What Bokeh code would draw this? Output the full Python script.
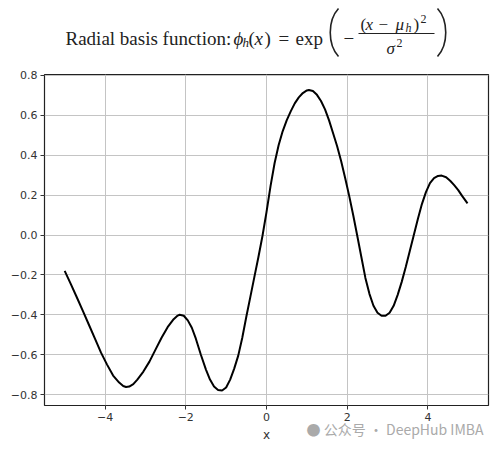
from bokeh.plotting import figure
from bokeh.layouts import column
from bokeh.models import Range1d, FixedTicker, CustomJSTickFormatter, Title
from bokeh.core.properties import value
from bokeh.embed import file_html
from bokeh.resources import INLINE

# ---- data ----
x_vals = [-5.0, -4.85, -4.7, -4.55, -4.4, -4.25, -4.1, -3.95, -3.8, -3.65,
          -3.55, -3.48, -3.4, -3.3, -3.2, -3.05, -2.9, -2.75, -2.6, -2.45,
          -2.3, -2.2, -2.15, -2.05, -1.95, -1.85, -1.75, -1.63, -1.5, -1.4,
          -1.3, -1.2, -1.1, -1.0, -0.9, -0.8, -0.7, -0.6, -0.5, -0.4,
          -0.3, -0.2, -0.1, 0.0, 0.1, 0.2, 0.3, 0.4, 0.5, 0.6,
          0.7, 0.8, 0.9, 1.0, 1.05, 1.15, 1.25, 1.35, 1.45, 1.55,
          1.65, 1.75, 1.85, 1.95, 2.05, 2.15, 2.24, 2.35, 2.45, 2.55,
          2.65, 2.75, 2.85, 2.95, 3.05, 3.15, 3.25, 3.35, 3.45, 3.55,
          3.65, 3.75, 3.85, 3.95, 4.05, 4.15, 4.25, 4.34, 4.45, 4.55,
          4.65, 4.75, 4.85, 4.98]
y_vals = [-0.180, -0.245, -0.312, -0.380, -0.450, -0.520, -0.590, -0.650, -0.705, -0.740,
          -0.757, -0.762, -0.760, -0.748, -0.725, -0.685, -0.635, -0.575, -0.515, -0.462,
          -0.422, -0.404, -0.400, -0.405, -0.428, -0.465, -0.520, -0.598, -0.675, -0.725,
          -0.760, -0.777, -0.780, -0.765, -0.725, -0.670, -0.605, -0.515, -0.410, -0.310,
          -0.210, -0.110, -0.005, 0.115, 0.245, 0.360, 0.450, 0.520, 0.575, 0.620,
          0.660, 0.690, 0.712, 0.725, 0.727, 0.722, 0.703, 0.672, 0.630, 0.575,
          0.510, 0.445, 0.370, 0.285, 0.195, 0.098, 0.005, -0.110, -0.215, -0.295,
          -0.355, -0.390, -0.405, -0.405, -0.390, -0.355, -0.300, -0.235, -0.160, -0.080,
          0.000, 0.080, 0.155, 0.215, 0.260, 0.285, 0.296, 0.298, 0.290, 0.272,
          0.250, 0.225, 0.195, 0.159]
x_ticks = [-4, -2, 0, 2, 4]
y_ticks = [-0.8, -0.6, -0.4, -0.2, 0.0, 0.2, 0.4, 0.6, 0.8]
x_label = "x"
watermark = "\u25cf 公众号 · DeepHub IMBA"

SERIF = value("Liberation Serif")
INK = "#222222"

# ---- title figure: frame is aligned with the chart frame (image x 44..488) ----
t = figure(width=500, height=66, output_backend="svg", toolbar_location=None,
           x_range=Range1d(44, 488), y_range=Range1d(66, 0),
           min_border_left=44, min_border_right=12, min_border_top=0, min_border_bottom=0,
           outline_line_color=None)
t.axis.visible = False
t.grid.visible = False

def tx(x, y, s, size=19, italic=False):
    t.text(x=[x], y=[y], text=[s], text_font=SERIF,
           text_font_size=f"{size}px", text_color=INK,
           text_font_style="italic" if italic else "normal",
           text_baseline="alphabetic", text_align="left")

tx(65, 38, "Radial basis function:")
tx(233, 38, "\u03d5", italic=True)
tx(242, 42, "h", size=13, italic=True)
tx(248, 38, "(")
tx(254, 38, "x", italic=True)
tx(264, 38, ")")
tx(278, 38, "=")
tx(295, 38, "exp")
tx(343, 38, "\u2212")
# numerator
tx(360, 24, "(", size=17)
tx(365, 24, "x", size=17, italic=True)
tx(378, 24, "\u2212", size=17)
tx(395, 24, "\u03bc", size=17, italic=True)
tx(405, 27, "h", size=12, italic=True)
tx(413, 24, ")", size=17)
tx(420, 18, "2", size=12)
# fraction bar
t.segment(x0=[358], y0=[33], x1=[434], y1=[33], line_color=INK, line_width=1)
# denominator
tx(386, 48, "\u03c3", size=17, italic=True)
tx(396, 42, "2", size=12)
# big parentheses
t.bezier(x0=[338], y0=[8], x1=[338], y1=[56], cx0=[327], cy0=[20], cx1=[327], cy1=[44],
         line_color=INK, line_width=1.6)
t.bezier(x0=[437], y0=[8], x1=[437], y1=[56], cx0=[448], cy0=[20], cx1=[448], cy1=[44],
         line_color=INK, line_width=1.6)

# ---- main chart ----
p = figure(width=500, height=386, output_backend="svg", toolbar_location=None,
           x_range=Range1d(-5.5, 5.5), y_range=Range1d(-0.855, 0.805),
           min_border_left=44, min_border_right=12, min_border_top=8, min_border_bottom=47,
           outline_line_color="#222222", outline_line_width=1.2,
           background_fill_color="white", border_fill_color="white")

p.line(x_vals, y_vals, line_color="black", line_width=2)

p.xaxis.ticker = FixedTicker(ticks=x_ticks)
p.yaxis.ticker = FixedTicker(ticks=y_ticks)
p.xaxis.formatter = CustomJSTickFormatter(code="return tick.toFixed(0).replace('-', '\\u2212');")
p.yaxis.formatter = CustomJSTickFormatter(code="return tick.toFixed(1).replace('-', '\\u2212');")
for ax in (p.xaxis, p.yaxis):
    ax.axis_line_color = None
    ax.major_tick_in = 0
    ax.major_tick_out = 4
    ax.major_tick_line_color = "#333333"
    ax.minor_tick_line_color = None
    ax.major_label_text_font = "DejaVu Sans"
    ax.major_label_text_font_size = "11px"
    ax.major_label_text_color = "#333333"
    ax.major_label_standoff = 3
p.xaxis.axis_label = x_label
p.xaxis.axis_label_text_font = "DejaVu Sans"
p.xaxis.axis_label_text_font_size = "12px"
p.xaxis.axis_label_text_font_style = "normal"
p.xaxis.axis_label_text_color = "#333333"
p.xaxis.axis_label_standoff = 4

p.grid.grid_line_color = "#c4c4c4"
p.grid.grid_line_width = 1

# watermark in the bottom panel
p.add_layout(Title(text=watermark, align="right", offset=5, standoff=-51,
                   vertical_align="top",
                   text_font="Noto Sans CJK SC", text_font_size="14px",
                   text_font_style="normal", text_color="#aaaaaa"), "below")

layout = column(t, p, spacing=0)
open("out.html", "w").write(file_html(layout, INLINE))
